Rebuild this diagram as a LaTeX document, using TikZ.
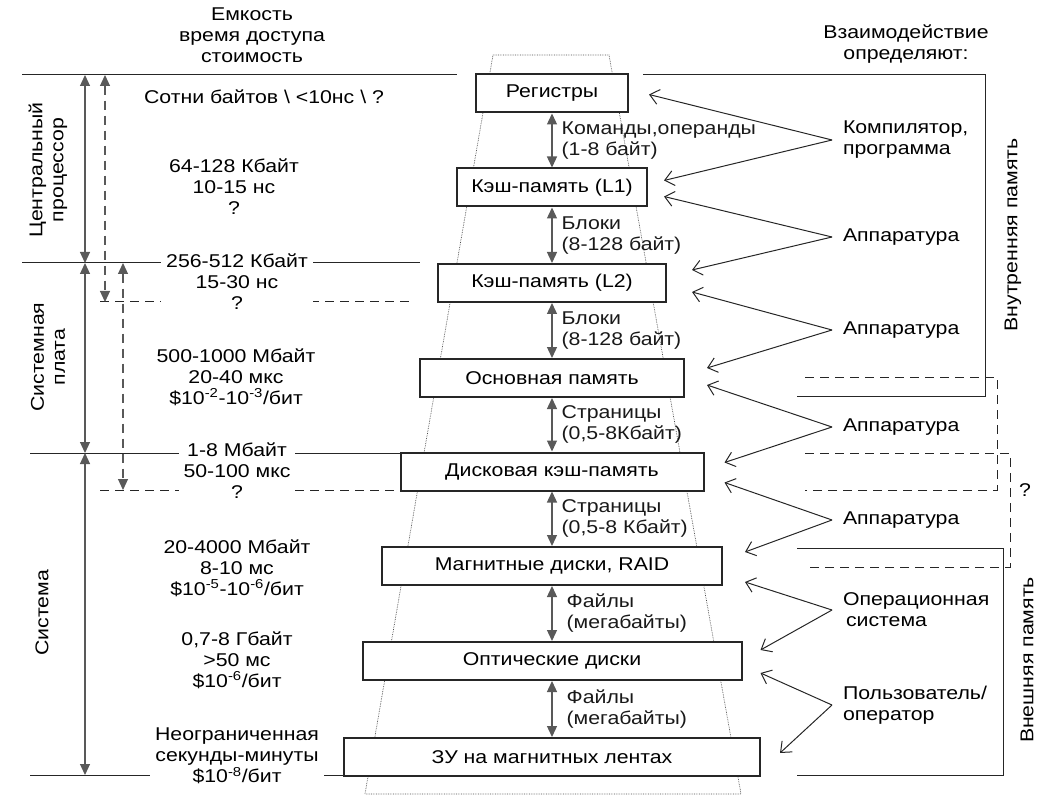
\documentclass[tikz,border=0pt]{standalone}
\usepackage{fontspec}
\setmainfont[FakeStretch=1.15]{Liberation Sans}
\usetikzlibrary{arrows.meta}
\tikzset{
  level/.style={draw=black!85,line width=2pt,fill=white,minimum height=38pt,inner sep=0pt},
  bus/.style={{Triangle[length=11pt,width=10pt]}-{Triangle[length=11pt,width=10pt]},line width=1.3pt,black!65},
  buslbl/.style={right,align=left,inner sep=3pt,xshift=6pt,text=black!90},
  span/.style={{Triangle[length=11pt,width=10pt]}-{Triangle[length=11pt,width=10pt]},line width=1.1pt,black!65},
  dspan/.style={span,dash pattern=on 9pt off 6pt},
  rule/.style={line width=1pt,black!85},
  drule/.style={rule,dash pattern=on 9pt off 6pt},
  pyramid/.style={densely dotted,line width=0.7pt,black!70},
  info/.style={align=center,fill=white,inner xsep=5pt,inner ysep=1pt},
  who/.style={anchor=west,align=left,inner sep=0pt,outer xsep=11pt},
  ctrl/.style={-{Straight Barb[length=9pt,width=15pt]},line width=1pt,black!85}
}
\begin{document}
\begin{tikzpicture}[x=1pt,y=-1pt,font=\fontsize{18.5}{21}\selectfont]
\useasboundingbox (0,0) rectangle (1045,805);
% pyramid outline
\draw[pyramid] (493,55) -- (609,55) -- (741,794) -- (365,794) -- cycle;
% level borders on the left
\draw[rule] (22,75) -- (457,75);
\draw[rule] (22,263) -- (420,263);
\draw[drule] (100,302) -- (413,302);
\draw[rule] (30,453) -- (400,453);
\draw[drule] (100,490) -- (400,490);
\draw[rule] (30,775) -- (345,775);
% ranges
\draw[span] (85,75) -- (85,263);
\draw[span] (85,263) -- (85,453);
\draw[span] (85,453) -- (85,775);
\draw[dspan] (105,75) -- (105,302);
\draw[dspan] (123,263) -- (123,490);
% brackets on the right
\draw[rule] (643,75) -- (985,75) -- (985,396) -- (797,396);
\draw[drule] (805,377) -- (997,377) -- (997,490) -- (805,490);
\draw[drule] (805,453) -- (1010,453) -- (1010,567) -- (805,567);
\draw[rule] (797,548) -- (1003,548) -- (1003,775) -- (797,775);
% levels
\node[level,minimum width=152pt] (reg) at (552,93.5) {Регистры};
\node[level,minimum width=190pt] (l1) at (552,187.5) {Кэш-память (L1)};
\node[level,minimum width=228pt] (l2) at (552,283) {Кэш-память (L2)};
\node[level,minimum width=264pt] (ram) at (552,378) {Основная память};
\node[level,minimum width=303pt] (dc) at (552,471.5) {Дисковая кэш-память};
\node[level,minimum width=340pt] (hdd) at (552,566) {Магнитные диски, RAID};
\node[level,minimum width=379pt] (opt) at (552,661) {Оптические диски};
\node[level,minimum width=416pt] (tape) at (552,757) {ЗУ на магнитных лентах};
% transfers
\draw[bus] (reg.south) -- node[buslbl] (t1) {Команды,операнды\\(1-8 байт)} (l1.north);
\draw[bus] (l1.south) -- node[buslbl] (t2) {Блоки\\(8-128 байт)} (l2.north);
\draw[bus] (l2.south) -- node[buslbl] (t3) {Блоки\\(8-128 байт)} (ram.north);
\draw[bus] (ram.south) -- node[buslbl] (t4) {Страницы\\(0,5-8Кбайт)} (dc.north);
\draw[bus] (dc.south) -- node[buslbl] (t5) {Страницы\\(0,5-8 Кбайт)} (hdd.north);
\draw[bus] (hdd.south) -- node[buslbl,xshift=5pt] (t6) {Файлы\\(мегабайты)} (opt.north);
\draw[bus] (opt.south) -- node[buslbl,xshift=5pt] (t7) {Файлы\\(мегабайты)} (tape.north);
% headings
\node[align=center] (head) at (252,35) {Емкость\\время доступа\\стоимость};
\node[align=center] (rhead) at (906,44) {Взаимодействие\\определяют:};
% capacity, access time, cost
\node[info] (c0) at (264,97) {Сотни байтов \textbackslash{} <10нс \textbackslash{} ?};
\node[info] (c1) at (234,187) {64-128 Кбайт\\10-15 нс\\?};
\node[info] (c2) at (237,282) {256-512 Кбайт\\15-30 нс\\?};
\node[info] (c3) at (236,377) {500-1000 Мбайт\\20-40 мкс\\\$10\textsuperscript{-2}-10\textsuperscript{-3}/бит};
\node[info] (c4) at (237,471) {1-8 Мбайт\\50-100 мкс\\?};
\node[info] (c5) at (237,568) {20-4000 Мбайт\\8-10 мс\\\$10\textsuperscript{-5}-10\textsuperscript{-6}/бит};
\node[info] (c6) at (237,660) {0,7-8 Гбайт\\>50 мс\\\$10\textsuperscript{-6}/бит};
\node[info] (c7) at (237,756) {Неограниченная\\секунды-минуты\\\$10\textsuperscript{-8}/бит};
% placement
\node[rotate=90,align=center] (cpu) at (48,170) {Центральный\\процессор};
\node[rotate=90,align=center] (mb) at (48,357) {Системная\\плата};
\node[rotate=90] (sys) at (42,613) {Система};
\node[rotate=90] (inmem) at (1013,235) {Внутренняя память};
\node[rotate=90] (exmem) at (1027,660) {Внешняя память};
\node (unk) at (1025,490) {?};
% who controls the transfers
\node[who] (comp) at (832,140) {Компилятор,\\программа};
\node[who] (hw1) at (832,237) {Аппаратура};
\node[who] (hw2) at (832,330) {Аппаратура};
\node[who] (hw3) at (832,427) {Аппаратура};
\node[who] (hw4) at (832,520) {Аппаратура};
\node[who] (os) at (832,610) {Операционная\\\hspace*{3pt}система};
\node[who] (usr) at (832,705) {Пользователь/\\оператор};
\draw[ctrl] (comp.west) -- ([shift={(20,1)}]reg.east);
\draw[ctrl] (comp.west) -- ([shift={(16,-7)}]l1.east);
\draw[ctrl] (hw1.west) -- ([shift={(16,9)}]l1.east);
\draw[ctrl] (hw1.west) -- ([shift={(25,-13)}]l2.east);
\draw[ctrl] (hw2.west) -- ([shift={(25,9)}]l2.east);
\draw[ctrl] (hw2.west) -- ([shift={(22,-10)}]ram.east);
\draw[ctrl] (hw3.west) -- ([shift={(22,7)}]ram.east);
\draw[ctrl] (hw3.west) -- ([shift={(20,-9)}]dc.east);
\draw[ctrl] (hw4.west) -- ([shift={(20,11)}]dc.east);
\draw[ctrl] (hw4.west) -- ([shift={(22,-14)}]hdd.east);
\draw[ctrl] (os.west) -- ([shift={(22,16)}]hdd.east);
\draw[ctrl] (os.west) -- ([shift={(18,-11)}]opt.east);
\draw[ctrl] (usr.west) -- ([shift={(18,12)}]opt.east);
\draw[ctrl] (usr.west) -- ([shift={(19,-4)}]tape.east);
\end{tikzpicture}
\end{document}
